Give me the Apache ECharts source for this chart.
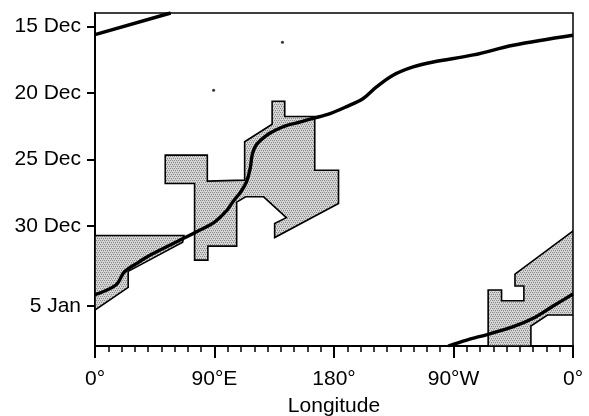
<!DOCTYPE html>
<html>
<head>
<meta charset="utf-8">
<script src="https://cdn.jsdelivr.net/npm/echarts@6/dist/echarts.min.js"></script>
<style>
html,body{margin:0;padding:0;background:#fff;}
#c{width:589px;height:416px;}
</style>
</head>
<body>
<div id="c"></div>
<script>
// Axis ticks
const lonTicks = [0, 90, 180, 270, 360];
const lonLabels = ['0°', '90°E', '180°', '90°W', '0°'];
const dayTicks = [1, 6, 11, 16, 22];           // days after 14 Dec
const dayLabels = ['15 Dec', '20 Dec', '25 Dec', '30 Dec', '5 Jan'];

// Thick trajectory line (longitude, day index) – wraps around the globe
const lineMain = [[0,21.15],[16,20.4],[22,19.45],[33,18.7],[41,18.2],[66,16.95],[74,16.55],[90,15.7],[99,14.85],[104,14.15],[110,13.4],[114,12.7],[117,11.6],[118.5,10.6],[121.5,9.9],[129,9.2],[137,8.75],[144,8.45],[152,8.25],[164,7.92],[177,7.55],[189,7.05],[202,6.42],[212,5.55],[224.5,4.67],[239.6,4.05],[254.7,3.68],[285,3.15],[315,2.42],[360,1.67]];
const lineTop = [[0,1.62],[57,0]];
const lineBottom = [[266,25],[280,24.55],[296,24.12],[315,23.55],[330,22.92],[345,22.0],[360,21.1]];

// Shaded regions (longitude, day index)
const regionWest = [[0,16.7],[67,16.7],[66,17.2],[25,19.4],[25,20.6],[0,22.3]];
const regionCentral = [[52.9,10.67],[84.6,10.67],[84.6,12.62],[112.7,12.55],[112.7,9.67],[133.4,8.35],[133.4,6.62],[142.9,6.62],[142.9,7.77],[165.5,7.77],[165.5,11.8],[183.4,11.8],[183.4,14.3],[135.3,16.86],[135.3,15.8],[144.1,15.36],[127,13.8],[113.5,13.8],[106.7,14.2],[106.7,17.5],[85,17.5],[85,18.55],[75,18.55],[75,12.8],[52.9,12.8]];
const regionEast = [[296.1,25],[296.1,20.8],[306.2,20.8],[306.2,21.6],[323,21.6],[323,20.5],[316.3,20.5],[316.3,19.6],[360,16.37],[360,22.67],[340.8,22.67],[328.3,23.5],[328.3,25]];
const regions = [regionWest, regionCentral, regionEast];

// Small specks
const specks = [[89.3,5.8],[141.2,2.2]];

// stipple pattern
const pc = document.createElement('canvas');
pc.width = 4; pc.height = 4;
const px = pc.getContext('2d');
px.fillStyle = '#d8d8d8'; px.fillRect(0,0,4,4);
px.fillStyle = '#888888';
[[0,0],[2,0],[1,2],[3,2]].forEach(p => px.fillRect(p[0], p[1], 1, 1));
px.fillStyle = '#bababa';
[[1,1],[3,3]].forEach(p => px.fillRect(p[0], p[1], 1, 1));

const FONT = 'Liberation Sans';
const chart = echarts.init(document.getElementById('c'), null, {renderer: 'canvas'});

const lineStyle = {color: '#000', width: 3.4};
function lineSeries(d) {
  return {type: 'line', data: d, smooth: 0.35, symbol: 'none', lineStyle: lineStyle, z: 5, silent: true, animation: false};
}

chart.setOption({
  animation: false,
  backgroundColor: '#fff',
  grid: {left: 95, right: 16, top: 13, bottom: 70, containLabel: false, outerBoundsMode: 'none',
         show: true, borderColor: '#000', borderWidth: 1.5, backgroundColor: 'transparent'},
  xAxis: {
    type: 'value', min: 0, max: 360, interval: 90,
    axisLine: {show: true, onZero: false, lineStyle: {color: '#000', width: 2}},
    axisTick: {show: true, length: 12, lineStyle: {color: '#000', width: 2}},
    minorTick: {show: true, splitNumber: 9, length: 6, lineStyle: {color: '#000', width: 1.5}},
    splitLine: {show: false},
    axisLabel: {
      margin: 23, color: '#000', fontFamily: FONT, fontSize: 21,
      formatter: v => { const i = lonTicks.indexOf(v); return i >= 0 ? lonLabels[i] : ''; }
    },
    name: 'Longitude', nameLocation: 'middle', nameGap: 50,
    nameTextStyle: {color: '#000', fontFamily: FONT, fontSize: 21}
  },
  yAxis: {
    type: 'value', min: 0, max: 25, inverse: true,
    axisLine: {show: true, onZero: false, lineStyle: {color: '#000', width: 2}},
    axisTick: {show: true, length: 8, customValues: dayTicks, lineStyle: {color: '#000', width: 2}},
    splitLine: {show: false},
    axisLabel: {
      margin: 14, color: '#000', fontFamily: FONT, fontSize: 21,
      customValues: dayTicks,
      formatter: v => { const i = dayTicks.indexOf(v); return i >= 0 ? dayLabels[i] : ''; }
    }
  },
  series: [
    {
      type: 'custom', z: 2, silent: true,
      data: regions.map((r, i) => [i]),
      renderItem: function (params, api) {
        const poly = regions[params.dataIndex].map(p => api.coord(p));
        return {
          type: 'polygon',
          shape: {points: poly},
          style: {fill: {image: pc, repeat: 'repeat'}, stroke: '#000', lineWidth: 1.6}
        };
      },
      clip: true
    },
    lineSeries(lineMain),
    lineSeries(lineTop),
    lineSeries(lineBottom),
    {type: 'scatter', data: specks, symbolSize: 3, itemStyle: {color: '#000'}, z: 4, silent: true}
  ]
});
</script>
</body>
</html>
